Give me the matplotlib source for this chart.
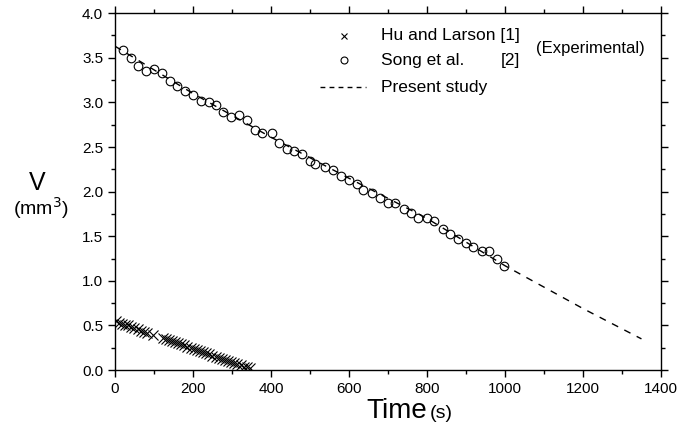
import numpy as np
import matplotlib
matplotlib.use("Agg")
import matplotlib.pyplot as plt
from matplotlib.ticker import MultipleLocator

plt.rcParams['font.family'] = ['Liberation Sans', 'DejaVu Sans']

# Song et al. [2] (experimental)
t_song = [20, 40, 60, 80, 100, 120, 140, 160, 180, 200, 220, 240, 258, 278, 298, 318,
          338, 360, 378, 403, 420, 440, 460, 480, 500, 512, 538, 558, 579, 600,
          621, 637, 660, 680, 699, 719, 741, 760, 778, 800, 818, 840, 859, 880,
          899, 919, 940, 959, 980, 997]
V_song = [3.585, 3.50, 3.41, 3.35, 3.37, 3.33, 3.24, 3.18, 3.13, 3.08, 3.02, 3.00, 2.97,
          2.89, 2.84, 2.86, 2.80, 2.69, 2.66, 2.66, 2.55, 2.48, 2.46, 2.42, 2.34, 2.31,
          2.28, 2.24, 2.17, 2.13, 2.08, 2.02, 1.99, 1.93, 1.87, 1.87, 1.80, 1.76, 1.71,
          1.70, 1.67, 1.58, 1.52, 1.47, 1.42, 1.38, 1.33, 1.33, 1.25, 1.165]

# Hu and Larson [1] (experimental)
t_hu = [3, 10, 18, 26, 34, 42, 50, 58, 66, 74, 82, 97, 122, 130, 138, 146, 154, 162,
        170, 178, 186, 194, 202, 210, 218, 226, 234, 242, 250, 258, 266, 274, 282,
        290, 298, 306, 314, 322, 330, 338, 346]
V_hu = [0.55, 0.53, 0.52, 0.51, 0.50, 0.48, 0.47, 0.46, 0.44, 0.43, 0.42, 0.39, 0.36,
        0.35, 0.34, 0.33, 0.31, 0.30, 0.29, 0.28, 0.26, 0.25, 0.24, 0.23, 0.21, 0.20,
        0.19, 0.18, 0.16, 0.15, 0.14, 0.13, 0.11, 0.10, 0.09, 0.08, 0.07, 0.06, 0.04,
        0.03, 0.02]

# Present study (model)
t_model = [0, 200, 400, 600, 800, 1000, 1200, 1350]
V_model = [3.63, 3.10, 2.61, 2.15, 1.70, 1.17, 0.69, 0.35]

fig = plt.figure(figsize=(6.8, 4.38), dpi=100)
ax = fig.add_axes([0.169, 0.155, 0.803, 0.815])

ax.plot(t_model, V_model, color="black", linestyle=(0, (5, 5)), linewidth=1.0)
ax.plot(t_song, V_song, linestyle="none", marker="o", markersize=6.2,
        markerfacecolor="none", markeredgecolor="black", markeredgewidth=0.8)
ax.plot(t_hu, V_hu, linestyle="none", marker="x", markersize=6.5,
        color="black", markeredgewidth=0.8)

ax.set_xlim(0, 1400)
ax.set_ylim(0, 4.0)
ax.xaxis.set_major_locator(MultipleLocator(200))
ax.xaxis.set_minor_locator(MultipleLocator(100))
ax.yaxis.set_major_locator(MultipleLocator(0.5))
ax.yaxis.set_minor_locator(MultipleLocator(0.25))
ax.yaxis.set_major_formatter(plt.FormatStrFormatter("%.1f"))
ax.tick_params(which="both", top=True, right=True, direction="out",
               labelsize=11, width=1.0)
ax.tick_params(which="major", length=5)
ax.tick_params(which="minor", length=3)
for s in ax.spines.values():
    s.set_linewidth(1.0)

# axis titles
fig.text(37 / 680, 1 - 183 / 438, "V", fontsize=18, ha="center", va="center")
fig.text(41 / 680, 1 - 208 / 438, "(mm$^3$)", fontsize=14, ha="center", va="center")
fig.text(427 / 680, 1 - 411 / 438, "Time", fontsize=20, ha="right", va="center")
fig.text(430 / 680, 1 - 413 / 438, "(s)", fontsize=14, ha="left", va="center")

# hand-made legend
tr = ax.transAxes
lfs = 12.5
ax.plot([0.419], [0.936], marker="x", color="black", markersize=5,
        markeredgewidth=0.8, transform=tr)
ax.plot([0.419], [0.868], marker="o", markersize=5, markerfacecolor="none",
        markeredgecolor="black", markeredgewidth=0.8, transform=tr)
ax.plot([0.375, 0.46], [0.793, 0.793], color="black", linestyle=(0, (3.5, 3)),
        linewidth=1.0, transform=tr)
hu = ax.text(0.487, 0.936, "Hu and Larson [1]", fontsize=lfs, va="center", transform=tr)
ax.text(0.487, 0.868, "Song et al.", fontsize=lfs, va="center", transform=tr)
ax.text(0.487, 0.793, "Present study", fontsize=lfs, va="center", transform=tr)

# put [2] under [1]
r = fig.canvas.get_renderer()
bb = hu.get_window_extent(renderer=r).transformed(tr.inverted())
ax.text(bb.x1, 0.868, "[2]", fontsize=lfs, va="center", ha="right", transform=tr)
ax.text(0.971, 0.902, "(Experimental)", fontsize=lfs - 0.5, va="center", ha="right",
        transform=tr)

fig.savefig("out.png", dpi=100)
